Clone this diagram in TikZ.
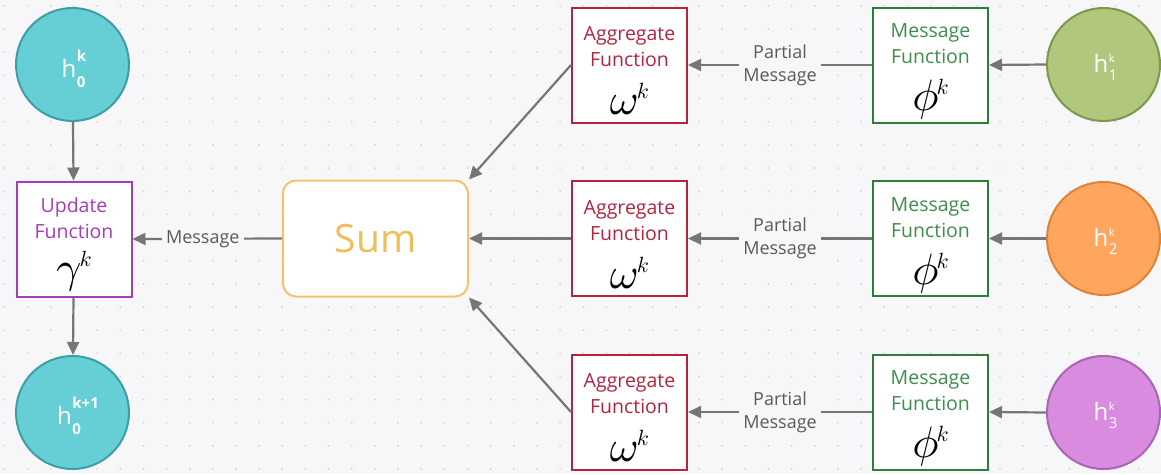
\documentclass[tikz,border=0pt]{standalone}
\usepackage[no-math]{fontspec}
\setmainfont{Open Sans}
\usetikzlibrary{arrows.meta,calc}

% let the math italic font scale to any size
\DeclareFontFamily{OML}{cmm}{\skewchar\font'177}
\DeclareFontShape{OML}{cmm}{m}{it}{<-> cmmi10}{}

\definecolor{bg}{HTML}{F7F7F9}
\definecolor{griddot}{HTML}{D9D9DE}
\definecolor{arrowgray}{HTML}{767676}
\definecolor{labelgray}{HTML}{5A5A5A}
\definecolor{tealfill}{HTML}{66CFD6}
\definecolor{tealline}{HTML}{3E9EA6}
\definecolor{olivefill}{HTML}{B2C77E}
\definecolor{oliveline}{HTML}{7C9A45}
\definecolor{orangefill}{HTML}{FFA65E}
\definecolor{orangeline}{HTML}{D98438}
\definecolor{pinkfill}{HTML}{D98BE0}
\definecolor{pinkline}{HTML}{A866B3}
\definecolor{updcol}{HTML}{A63DB8}
\definecolor{aggcol}{HTML}{B3243F}
\definecolor{msgcol}{HTML}{2F7D3A}
\definecolor{msgtext}{HTML}{3F8D4D}
\definecolor{sumline}{HTML}{F2C56A}
\definecolor{sumtext}{HTML}{F0BD5A}

% h with a stacked superscript and subscript
\newlength\hstackw
\newcommand\hstack[4]{%
  h\kern0.5pt
  \setbox0\hbox{#1}\setbox2\hbox{#2}%
  \ifdim\wd0>\wd2 \setlength\hstackw{\wd0}\else\setlength\hstackw{\wd2}\fi
  \makebox[\hstackw][l]{\rlap{\raisebox{#3}{\box0}}\raisebox{-#4}{\box2}}}
\newcommand\supb{\fontsize{15}{15}\selectfont\bfseries}
\newcommand\supr{\fontsize{11}{11}\selectfont}
\newcommand\subr{\fontsize{15}{15}\selectfont}

% function symbol with superscript k
\newcommand\fsym[1]{{\fontsize{44}{44}\selectfont$#1$}\kern-2pt\raisebox{16pt}{\fontsize{22}{22}\selectfont$k$}}

\tikzset{
  fnbox/.style={draw, line width=2pt, fill=white, minimum width=115pt,
    minimum height=115pt, inner sep=0pt},
  fntext/.style={anchor=base, inner sep=0pt, font=\fontsize{19.5}{22}\selectfont},
  symtext/.style={anchor=base, inner sep=0pt},
  hnode/.style={circle, line width=2pt, minimum size=113pt, inner sep=0pt},
  htext/.style={anchor=base, inner sep=0pt, text=white, font=\fontsize{24}{24}\selectfont},
  flow/.style={draw=arrowgray, line width=2.2pt, -{Triangle[length=13pt,width=12pt]}},
  edgelbl/.style={fill=bg, text=labelgray, font=\fontsize{18}{23}\selectfont,
    inner sep=4pt, align=center},
}

\begin{document}
\begin{tikzpicture}[x=1pt,y=-1pt]
  % canvas and dot grid
  \fill[bg] (0,0) rectangle (1161,474);
  \useasboundingbox (0,0) rectangle (1161,474);
  \foreach \i in {0,...,50}{
    \foreach \j in {0,...,20}{
      \fill[griddot] ({4.5+23.15*\i},{6+23.15*\j}) circle (1.1pt);
    }
  }

  % central node and its update step
  \node[hnode, fill=tealfill, draw=tealline] (h0) at (72.5,64.5) {};
  \node[htext] at (74,77) {\hstack{\supb k}{\supb 0}{16pt}{10pt}};
  \node[fnbox, draw=updcol] (upd) at (74,239) {};
  \node[hnode, fill=tealfill, draw=tealline] (h0n) at (72.5,412.5) {};
  \node[htext] at (78,424) {\hstack{\supb k+1}{\supb 0}{16pt}{10pt}};

  % sum over the aggregated messages
  \node[draw=sumline, line width=2pt, fill=white, rounded corners=13pt,
    minimum width=185pt, minimum height=116pt, inner sep=0pt,
    text=sumtext, font=\fontsize{39}{39}\selectfont] (sum) at (375.5,238.5) {Sum};

  % aggregate functions
  \foreach \n/\y in {1/65,2/238.5,3/412}{
    \node[fnbox, draw=aggcol] (agg\n) at (629.5,\y) {};
  }
  % message functions
  \foreach \n/\y in {1/65,2/238.5,3/412}{
    \node[fnbox, draw=msgcol] (msg\n) at (930.5,\y) {};
  }
  % neighbour nodes
  \node[hnode, fill=olivefill, draw=oliveline] (c1) at (1103.5,64.5) {};
  \node[hnode, fill=orangefill, draw=orangeline] (c2) at (1103.5,238.5) {};
  \node[hnode, fill=pinkfill, draw=pinkline] (c3) at (1103.5,412.5) {};
  \foreach \n in {1,2,3}{
    \node[htext] at ($(c\n.center)+(2,8)$) {\hstack{\supr k}{\subr \n}{10pt}{8pt}};
  }

  % box captions
  \node[fntext, text=updcol] at ($(upd.north)+(0,32)$) {Update};
  \node[fntext, text=updcol] at ($(upd.north)+(0,58)$) {Function};
  \node[symtext] at ($(upd.north)+(0,102)$) {\fsym{\gamma}};
  \foreach \n in {1,2,3}{
    \node[fntext, text=aggcol] at ($(agg\n.north)+(0,34)$) {Aggregate};
    \node[fntext, text=aggcol] at ($(agg\n.north)+(0,60)$) {Function};
    \node[symtext] at ($(agg\n.north)+(0,108)$) {\fsym{\omega}};
    \node[fntext, text=msgtext] at ($(msg\n.north)+(0,31)$) {Message};
    \node[fntext, text=msgtext] at ($(msg\n.north)+(0,57)$) {Function};
    \node[symtext] at ($(msg\n.north)+(0,104)$) {\fsym{\phi}};
  }

  % connectors
  \draw[flow] (h0) -- (upd);
  \draw[flow] (upd) -- (h0n);
  \draw[flow] (sum.west) -- node[edgelbl, pos=0.53] {Message} (upd.east);
  \draw[flow] (agg1.west) -- (sum.north east);
  \draw[flow] (agg2.west) -- (sum.east);
  \draw[flow] (agg3.west) -- (sum.south east);
  \foreach \n in {1,2,3}{
    \draw[flow] (msg\n.west) -- node[edgelbl] {Partial\\Message} (agg\n.east);
    \draw[flow] (c\n.west) -- (msg\n.east);
  }
\end{tikzpicture}
\end{document}
